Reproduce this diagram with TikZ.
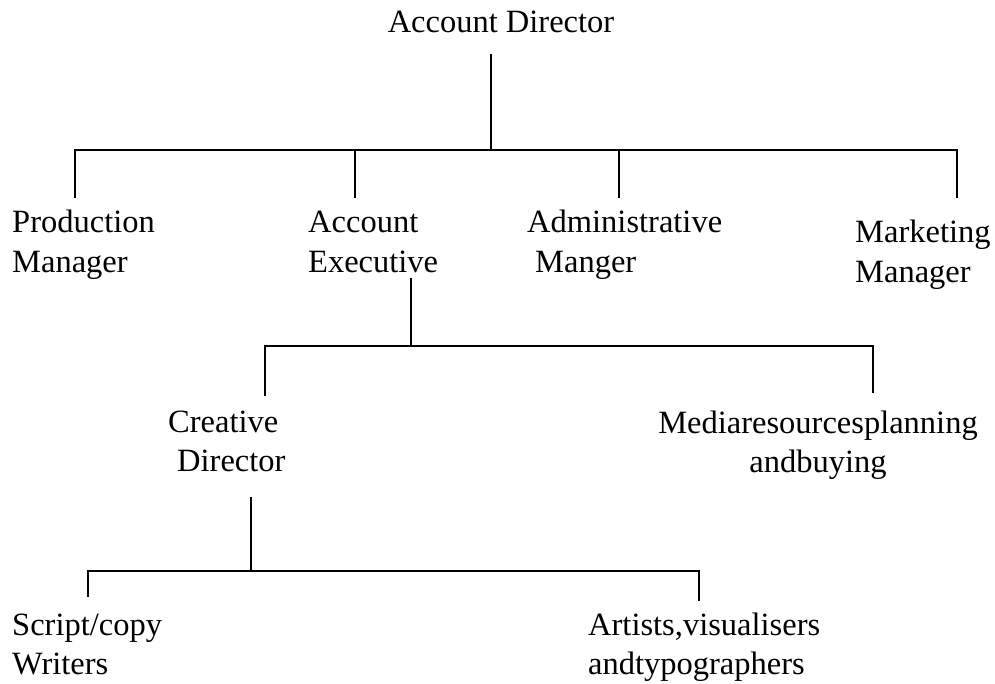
\documentclass[tikz,border=0pt]{standalone}
\usepackage{fontspec}
\setmainfont{Liberation Serif}
% stacked label lines; first line carries the baseline
\newcommand\orglines[2][l]{\begin{tabular}[t]{@{}#1@{}}#2\end{tabular}}
\begin{document}
\begin{tikzpicture}[x=1pt,y=-1pt,
  lbl/.style={inner sep=0pt, font=\fontsize{32.5}{39.5}\selectfont},
  wire/.style={line width=1.8pt, line join=miter}]
\useasboundingbox (0,0) rectangle (995,684);

% ---- labels ----
\node[lbl, anchor=base] (ad) at (501,33) {Account Director};
\node[lbl, anchor=base west] (pm) at (12,233) {\orglines{Production\\Manager}};
\node[lbl, anchor=base west] (ae) at (308,233) {\orglines{Account\\Executive}};
\node[lbl, anchor=base west] (am) at (527,233) {\orglines{Administrative\\\hspace*{8pt}Manger}};
\node[lbl, anchor=base west] (mm) at (855,243) {\orglines{Marketing\\Manager}};
\node[lbl, anchor=base west] (cd) at (168,432) {\orglines{Creative\\\hspace*{9pt}Director}};
\node[lbl, anchor=base] (mr) at (818,433) {\orglines[c]{Mediaresourcesplanning\\andbuying}};
\node[lbl, anchor=base west] (sw) at (12,635) {\orglines{Script/copy\\Writers}};
\node[lbl, anchor=base west] (av) at (588,635) {\orglines{Artists,visualisers\\andtypographers}};

% ---- connector end points ----
\coordinate (ad-out) at (491,54);
\coordinate (bus1)   at (491,150);
\coordinate (pm-in)  at (75,198);
\coordinate (ae-in)  at (355,198);
\coordinate (am-in)  at (619,198);
\coordinate (mm-in)  at (957,198);

\coordinate (ae-out) at (411,278);
\coordinate (bus2)   at (411,346);
\coordinate (cd-in)  at (265,396);
\coordinate (mr-in)  at (873,393);

\coordinate (cd-out) at (251,497);
\coordinate (bus3)   at (251,571);
\coordinate (sw-in)  at (88,597);
\coordinate (av-in)  at (699,601);

% ---- tier 1 ----
\draw[wire] (ad-out) -- (bus1);
\draw[wire] (pm-in) |- (bus1) -| (mm-in);
\draw[wire] (ae-in) -- (ae-in |- bus1);
\draw[wire] (am-in) -- (am-in |- bus1);

% ---- tier 2 ----
\draw[wire] (ae-out) -- (bus2);
\draw[wire] (cd-in) |- (bus2) -| (mr-in);

% ---- tier 3 ----
\draw[wire] (cd-out) -- (bus3);
\draw[wire] (sw-in) |- (bus3) -| (av-in);
\end{tikzpicture}
\end{document}
